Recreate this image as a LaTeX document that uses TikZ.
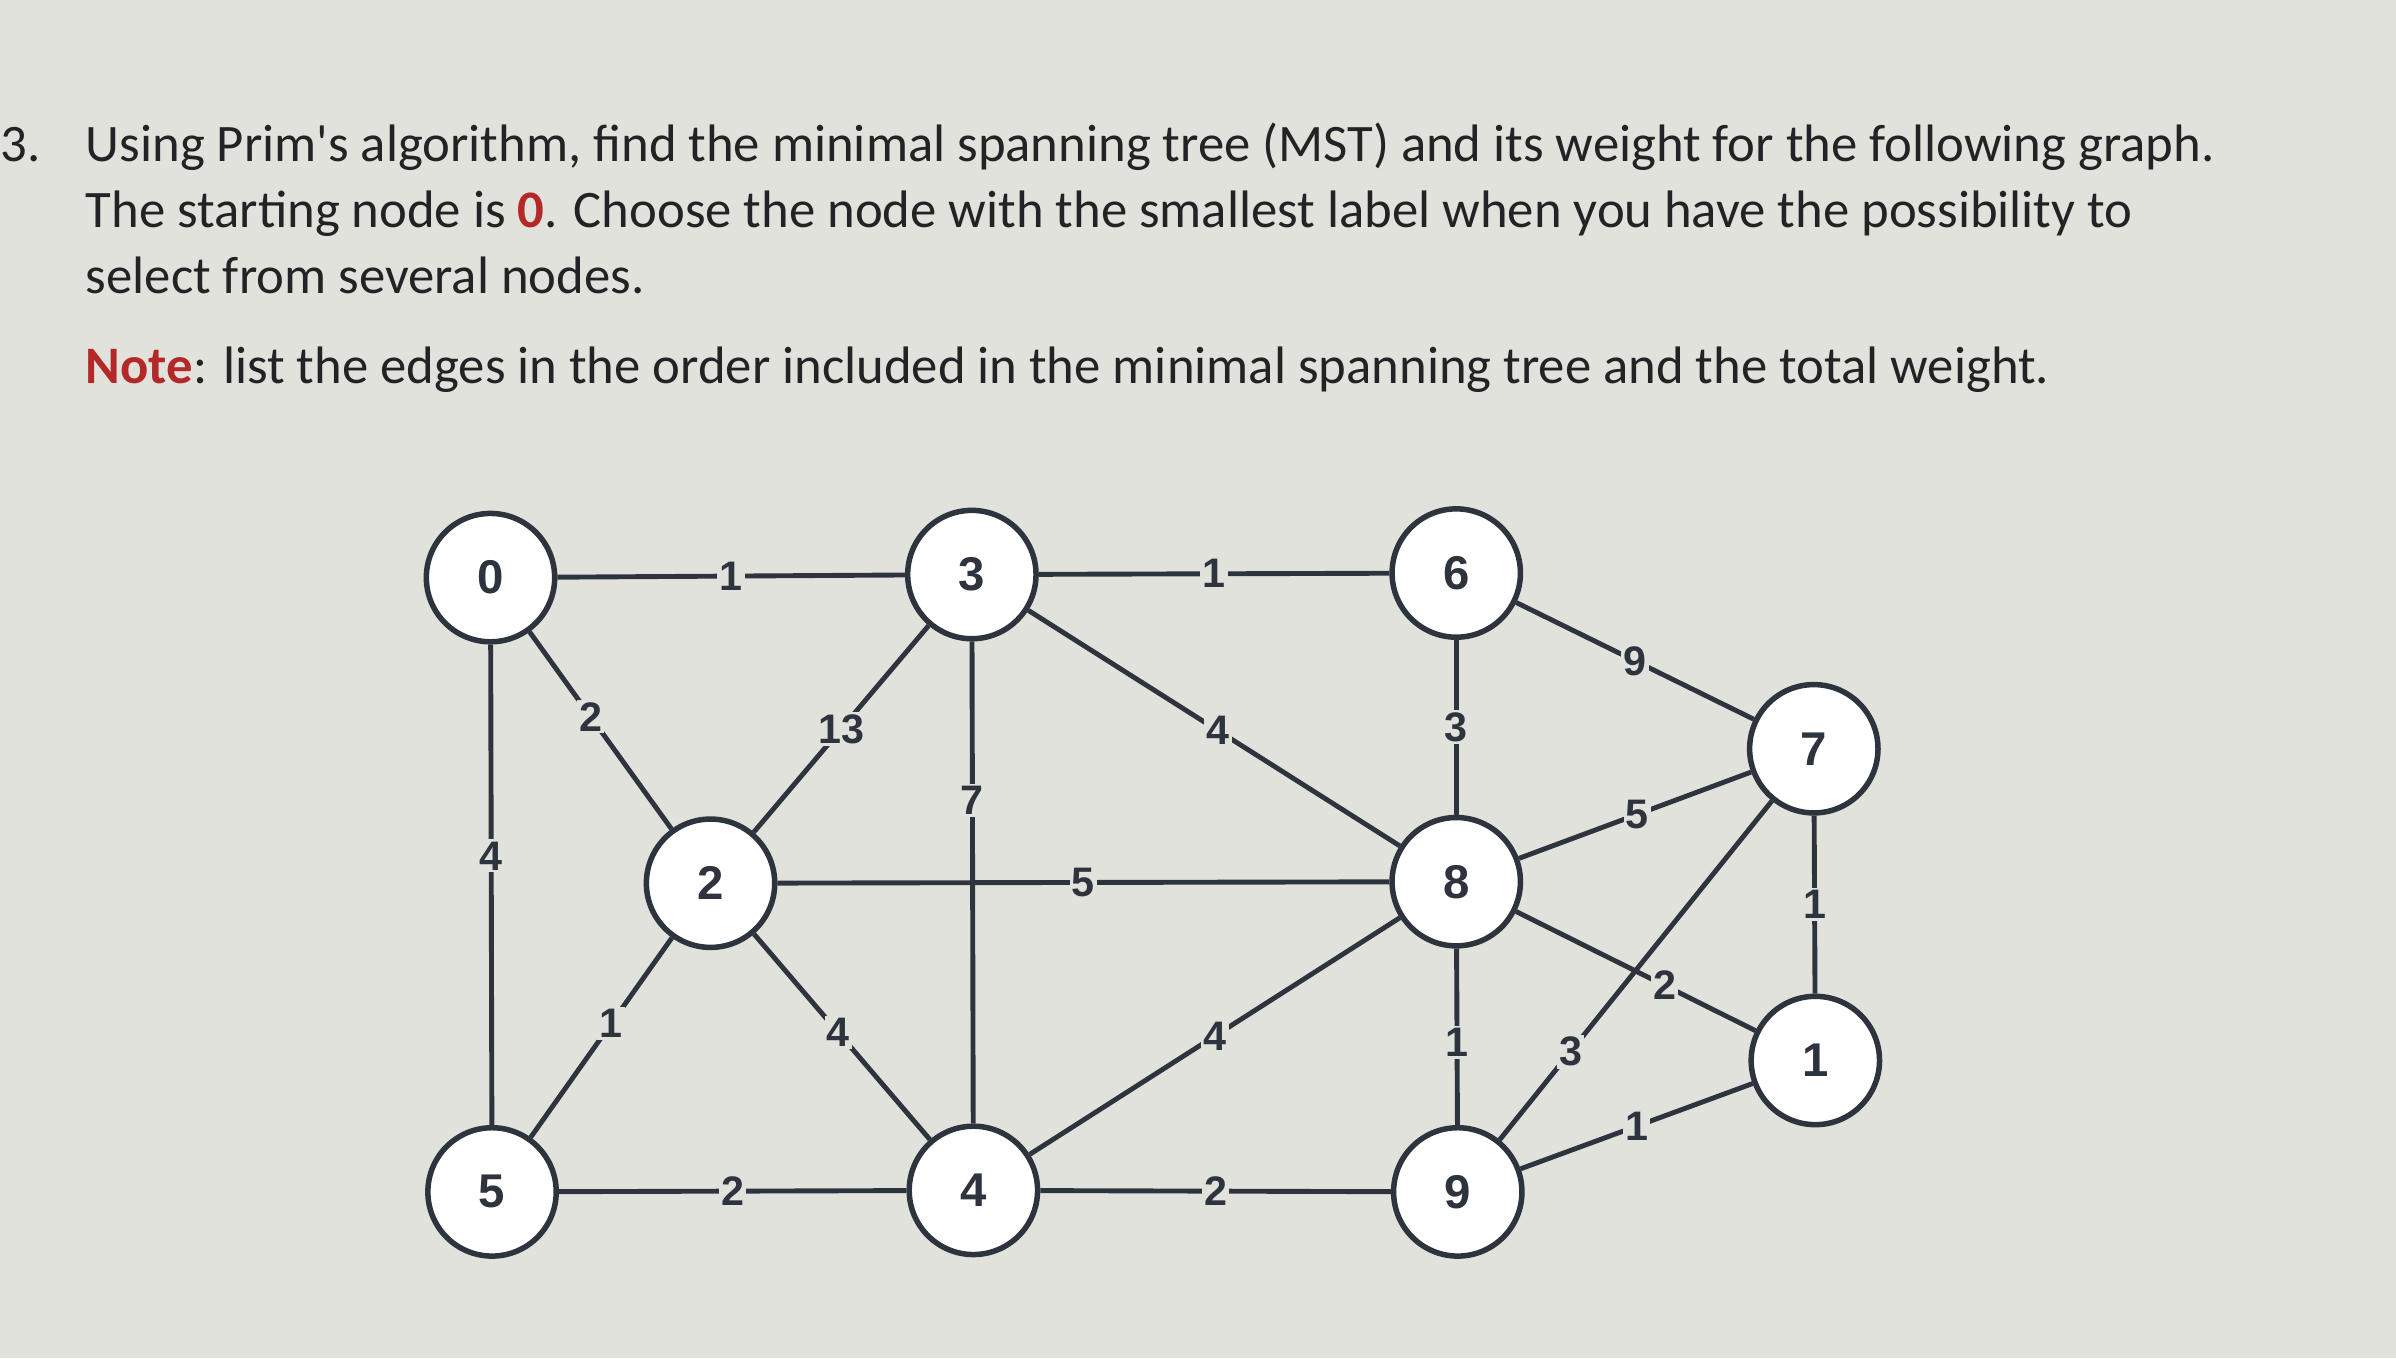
\documentclass[tikz,border=0pt]{standalone}
\usepackage{fontspec}
\setmainfont{Carlito}
\newfontfamily\lblfont{Liberation Sans}
\definecolor{bg}{RGB}{226,226,220}
\definecolor{ink}{RGB}{35,35,38}
\definecolor{redt}{RGB}{180,40,40}
\definecolor{gr}{RGB}{45,52,62}
\begin{document}
\begin{tikzpicture}[x=1pt,y=-1pt,
  vtx/.style={circle,draw=gr,line width=3.6pt,fill=white,minimum size=84pt,inner sep=0pt,font=\lblfont\bfseries\fontsize{31}{31}\selectfont,text=gr},
  edge/.style={draw=gr,line width=3.2pt},
  w/.style={fill=bg,inner sep=1.5pt,font=\lblfont\bfseries\fontsize{27}{27}\selectfont,text=gr},
  txt/.style={anchor=base west,inner sep=0pt,text=ink,font=\fontsize{34.5}{34.5}\selectfont}]
\fill[bg] (0,0) rectangle (1568,889);
\useasboundingbox (0,0) rectangle (1568,889);
\node[txt] (n3) at (0,106) {3.};
\node[txt] (l1) at (56,106) {Using Prim\textquotesingle s algorithm, find the minimal spanning tree (MST) and its weight for the following graph.};
\node[txt] (l2) at (56,149) {The starting node is \textcolor{redt}{\textbf{0}}. Choose the node with the smallest label when you have the possibility to};
\node[txt] (l3) at (56,192) {select from several nodes.};
\node[txt] (l4) at (56,251) {\textcolor{redt}{\textbf{Note}}: list the edges in the order included in the minimal spanning tree and the total weight.};

\node[vtx] (v0) at (321,378) {0};
\node[vtx] (v3) at (636,376) {3};
\node[vtx] (v6) at (953,375) {6};
\node[vtx] (v7) at (1187,490) {7};
\node[vtx] (v2) at (465,578) {2};
\node[vtx] (v8) at (953,577) {8};
\node[vtx] (v1) at (1188,694) {1};
\node[vtx] (v5) at (322,780) {5};
\node[vtx] (v4) at (637,779) {4};
\node[vtx] (v9) at (954,780) {9};

\path[edge] (v2) -- node[w,pos=0.5]{5} (v8);
\path[edge] (v0) -- node[w,pos=0.5]{1} (v3);
\path[edge] (v3) -- node[w,pos=0.5]{1} (v6);
\path[edge] (v0) -- node[w,pos=0.43]{2} (v2);
\path[edge] (v3) -- node[w,pos=0.5]{13} (v2);
\path[edge] (v3) -- node[w,pos=0.33]{7} (v4);
\path[edge] (v3) -- node[w,pos=0.51]{4} (v8);
\path[edge] (v6) -- node[w,pos=0.5]{9} (v7);
\path[edge] (v6) -- node[w,pos=0.5]{3} (v8);
\path[edge] (v0) -- node[w,pos=0.44]{4} (v5);
\path[edge] (v8) -- node[w,pos=0.51]{5} (v7);
\path[edge] (v7) -- node[w,pos=0.5]{1} (v1);
\path[edge] (v5) -- node[w,pos=0.57]{1} (v2);
\path[edge] (v2) -- node[w,pos=0.48]{4} (v4);
\path[edge] (v4) -- node[w,pos=0.5]{4} (v8);
\path[edge] (v8) -- node[w,pos=0.53]{1} (v9);
\path[edge] (v9) -- node[w,pos=0.26]{3} (v7);
\path[edge] (v8) -- node[w,pos=0.62]{2} (v1);
\path[edge] (v9) -- node[w,pos=0.5]{1} (v1);
\path[edge] (v5) -- node[w,pos=0.5]{2} (v4);
\path[edge] (v4) -- node[w,pos=0.5]{2} (v9);
\end{tikzpicture}
\end{document}
